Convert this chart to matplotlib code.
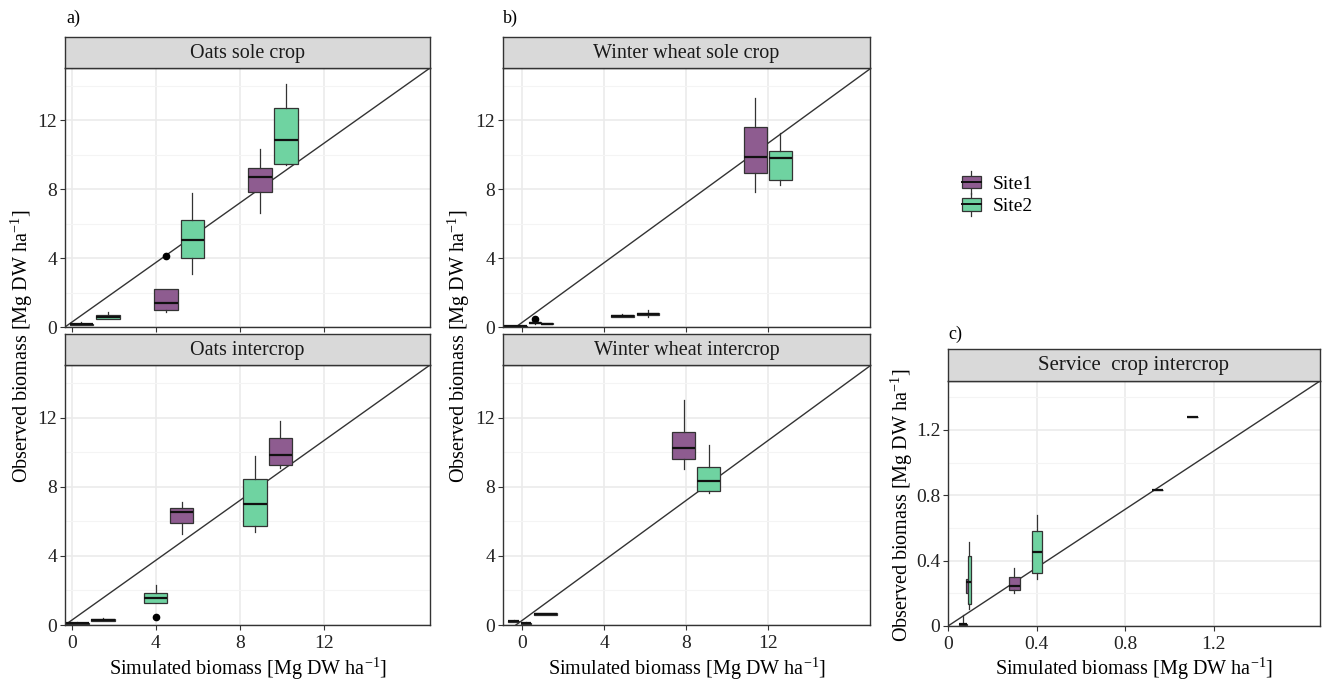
import matplotlib
matplotlib.use("Agg")
import matplotlib.pyplot as plt
from matplotlib.patches import Rectangle
from matplotlib.lines import Line2D
from matplotlib.legend_handler import HandlerBase

# ---------------- DATA ----------------
sites = ["Site1", "Site2"]
site_colors = {"Site1": "#8E5C90", "Site2": "#6FD3A1"}

# stats tuples: (whisker low, q1, median, q3, whisker high)
oats_sole_sim = [0.46, 1.72, 4.49, 5.74, 8.97, 10.21]
oats_sole_site = ["Site1", "Site2", "Site1", "Site2", "Site1", "Site2"]
oats_sole_stats = [(0.10, 0.12, 0.16, 0.18, 0.30), (0.45, 0.49, 0.58, 0.68, 0.87),
                   (0.87, 1.00, 1.39, 2.22, 2.22), (3.09, 4.02, 5.07, 6.19, 7.78),
                   (6.60, 7.87, 8.70, 9.23, 10.35), (9.40, 9.48, 10.87, 12.70, 14.12)]
oats_sole_fliers = [[], [], [4.1], [], [], []]

oats_inter_sim = [0.24, 1.50, 3.99, 5.23, 8.72, 9.94]
oats_inter_site = ["Site2", "Site1", "Site2", "Site1", "Site2", "Site1"]
oats_inter_stats = [(0.05, 0.07, 0.10, 0.12, 0.15), (0.22, 0.25, 0.29, 0.33, 0.38),
                    (1.30, 1.30, 1.59, 1.84, 2.32), (5.28, 5.90, 6.52, 6.77, 7.10),
                    (5.38, 5.71, 7.00, 8.48, 9.77), (9.10, 9.29, 9.83, 10.80, 11.80)]
oats_inter_fliers = [[], [], [0.48], [], [], []]

wheat_sole_sim = [-0.33, 0.60, 1.20, 4.89, 6.14, 11.38, 12.62]
wheat_sole_site = ["Site1", "Site1", "Site2", "Site1", "Site2", "Site1", "Site2"]
wheat_sole_stats = [(0.00, 0.02, 0.04, 0.06, 0.08), (0.20, 0.22, 0.25, 0.28, 0.30),
                    (0.15, 0.17, 0.19, 0.21, 0.23), (0.58, 0.60, 0.66, 0.72, 0.77),
                    (0.58, 0.72, 0.77, 0.82, 0.97), (7.87, 8.96, 9.90, 11.64, 13.29),
                    (8.26, 8.55, 9.83, 10.25, 11.30)]
wheat_sole_fliers = [[], [0.45], [], [], [], [], []]

wheat_inter_sim = [-0.43, 0.19, 1.13, 7.90, 9.12]
wheat_inter_site = ["Site1", "Site2", "Site1", "Site1", "Site2"]
wheat_inter_stats = [(0.18, 0.20, 0.22, 0.25, 0.28), (0.00, 0.05, 0.10, 0.12, 0.20),
                     (0.55, 0.60, 0.64, 0.70, 0.72), (9.04, 9.58, 10.22, 11.19, 13.00),
                     (7.64, 7.74, 8.32, 9.15, 10.41)]
wheat_inter_fliers = [[], [], [], [], []]

service_sim = [0.068, 0.088, 0.097, 0.30, 0.40, 0.945, 1.105]
service_site = ["Site1", "Site1", "Site2", "Site1", "Site2", "Site1", "Site2"]
service_stats = [(0.0, 0.005, 0.01, 0.015, 0.065), (0.20, 0.20, 0.27, 0.285, 0.285),
                 (0.107, 0.137, 0.27, 0.428, 0.515), (0.204, 0.223, 0.245, 0.30, 0.358),
                 (0.29, 0.327, 0.454, 0.583, 0.679), (0.832, 0.832, 0.832, 0.832, 0.832),
                 (1.278, 1.278, 1.278, 1.278, 1.278)]
service_fliers = [[], [], [], [], [], [], []]

ab_ticks = [0, 4, 8, 12]
ab_minor = [2, 6, 10, 14]
c_ticks = [0, 0.4, 0.8, 1.2]
c_tick_labels = ["0", "0.4", "0.8", "1.2"]
c_minor = [0.2, 0.6, 1.0, 1.4]

ref_ab_x = [-0.32, 17.06]
ref_ab_y = [0, 15.05]
ref_c_x = [0, 1.68]
ref_c_y = [0, 1.50]

# ---------------- LAYOUT / STYLE ----------------
W, H = 1322, 682
FONT = "Liberation Serif"
plt.rcParams["font.family"] = [FONT, "DejaVu Serif"]
plt.rcParams["mathtext.fontset"] = "custom"
plt.rcParams["mathtext.rm"] = FONT
plt.rcParams["mathtext.default"] = "regular"

fig = plt.figure(figsize=(W / 100, H / 100), dpi=100)


def px_axes(l, t, r, b):
    return fig.add_axes([l / W, 1 - b / H, (r - l) / W, (b - t) / H])


BORDER = "#333333"
GRID = "#EBEBEB"
GRID_MINOR = "#F4F4F4"
TICK_FS = 14
STRIP_FS = 14.5


def style_axes(ax, xlim, ylim, xticks, yticks, yminor, xlabels=True, xticklabels=None, yticklabels=None):
    ax.set_xlim(*xlim)
    ax.set_ylim(*ylim)
    ax.set_xticks(xticks)
    ax.set_yticks(yticks)
    ax.set_yticks(yminor, minor=True)
    if yticklabels is not None:
        ax.set_yticklabels(yticklabels)
    if xticklabels is not None:
        ax.set_xticklabels(xticklabels)
    if not xlabels:
        ax.tick_params(axis="x", labelbottom=False)
    ax.set_axisbelow(True)
    ax.grid(True, which="major", color=GRID, lw=1.2)
    ax.grid(True, which="minor", axis="y", color=GRID_MINOR, lw=0.8)
    ax.tick_params(axis="both", which="major", length=3.5, width=0.8, color=BORDER,
                   labelsize=TICK_FS, labelcolor="#222222", pad=2)
    ax.tick_params(axis="x", which="major", pad=4)
    ax.tick_params(axis="y", which="minor", length=0)
    for s in ax.spines.values():
        s.set_color(BORDER)
        s.set_linewidth(1.0)


def strip(l, t, r, b, text, fs=STRIP_FS):
    sa = px_axes(l, t, r, b)
    sa.set_facecolor("#D9D9D9")
    sa.set_xticks([])
    sa.set_yticks([])
    for s in sa.spines.values():
        s.set_color(BORDER)
        s.set_linewidth(1.0)
    sa.text(0.5, 0.47, text, ha="center", va="center", fontsize=fs, color="#1A1A1A",
            transform=sa.transAxes)


def draw_boxes(ax, sims, site, stats, fliers, widths):
    for x, s, st, fl, w in zip(sims, site, stats, fliers, widths):
        wl, q1, med, q3, wh = st
        d = dict(whislo=wl, q1=q1, med=med, q3=q3, whishi=wh, fliers=fl)
        ax.bxp([d], positions=[x], widths=[w], patch_artist=True, showcaps=False,
               manage_ticks=False,
               boxprops=dict(facecolor=site_colors[s], edgecolor=BORDER, lw=0.9),
               medianprops=dict(color="#111111", lw=1.6),
               whiskerprops=dict(color=BORDER, lw=0.9),
               flierprops=dict(marker="o", markersize=4.5, markerfacecolor="black",
                               markeredgecolor="black"))


# panel rectangles (pixels): left, top, right, bottom
A_L, A_R = 65, 430
B_L, B_R = 503, 870
TOP_T, TOP_B = 68, 327
BOT_T, BOT_B = 365, 625
C_L, C_R, C_T, C_B = 948, 1320, 381, 626

ab_ylim = (0, 15.05)
a_xlim = (-0.32, 17.06)
b_xlim = (-0.95, 17.0)

panels = [
    (A_L, TOP_T, A_R, TOP_B, a_xlim, False, "Oats sole crop",
     oats_sole_sim, oats_sole_site, oats_sole_stats, oats_sole_fliers, [1.12] * 6),
    (A_L, BOT_T, A_R, BOT_B, a_xlim, True, "Oats intercrop",
     oats_inter_sim, oats_inter_site, oats_inter_stats, oats_inter_fliers, [1.12] * 6),
    (B_L, TOP_T, B_R, TOP_B, b_xlim, False, "Winter wheat sole crop",
     wheat_sole_sim, wheat_sole_site, wheat_sole_stats, wheat_sole_fliers,
     [1.12, 0.57, 0.57, 1.12, 1.12, 1.12, 1.12]),
    (B_L, BOT_T, B_R, BOT_B, b_xlim, True, "Winter wheat intercrop",
     wheat_inter_sim, wheat_inter_site, wheat_inter_stats, wheat_inter_fliers,
     [0.55, 0.5, 1.15, 1.12, 1.12]),
]

for l, t, r, b, xlim, xl, title, sims, site, stats, fl, widths in panels:
    ax = px_axes(l, t, r, b)
    style_axes(ax, xlim, ab_ylim, ab_ticks, ab_ticks, ab_minor, xlabels=xl)
    ax.plot(ref_ab_x, ref_ab_y, color="#333333", lw=1.0, zorder=1.5)
    draw_boxes(ax, sims, site, stats, fl, widths)
    strip(l, t - 31, r, t, title)

# panel c
axc = px_axes(C_L, C_T, C_R, C_B)
style_axes(axc, (0, 1.68), (0, 1.50), c_ticks, c_ticks, c_minor, xlabels=True,
           xticklabels=c_tick_labels, yticklabels=c_tick_labels)
axc.plot(ref_c_x, ref_c_y, color="#333333", lw=1.0, zorder=1.5)
draw_boxes(axc, service_sim, service_site, service_stats, service_fliers,
           [0.035, 0.014, 0.014, 0.047, 0.045, 0.05, 0.05])
strip(C_L, C_T - 32, C_R, C_T, "Service  crop intercrop", fs=15)

# axis titles
xlab = r"Simulated biomass [Mg DW ha$^{-1}$]"
ylab = r"Observed biomass [Mg DW ha$^{-1}$]"
LAB_FS = 14.5
fig.text((A_L + A_R) / 2 / W, 1 - 669 / H, xlab, ha="center", va="center", fontsize=LAB_FS)
fig.text((B_L + B_R) / 2 / W, 1 - 669 / H, xlab, ha="center", va="center", fontsize=LAB_FS)
fig.text((C_L + C_R) / 2 / W, 1 - 669 / H, xlab, ha="center", va="center", fontsize=LAB_FS)
fig.text(22 / W, 1 - 346 / H, ylab, ha="center", va="center", rotation=90, fontsize=LAB_FS)
fig.text(459 / W, 1 - 346 / H, ylab, ha="center", va="center", rotation=90, fontsize=LAB_FS)
fig.text(902 / W, 1 - 505 / H, ylab, ha="center", va="center", rotation=90, fontsize=LAB_FS)

# panel letters
fig.text(66 / W, 1 - 18 / H, "a)", ha="left", va="center", fontsize=13)
fig.text(503 / W, 1 - 18 / H, "b)", ha="left", va="center", fontsize=13)
fig.text(948 / W, 1 - 334 / H, "c)", ha="left", va="center", fontsize=13)


# legend with boxplot keys
class BoxKey(HandlerBase):
    def __init__(self, color):
        super().__init__()
        self.color = color

    def create_artists(self, legend, orig_handle, xdescent, ydescent, width, height, fontsize, trans):
        bw = width * 0.75
        x0 = (width - bw) / 2 - xdescent
        bh = height * 0.7
        y0 = (height - bh) / 2 - ydescent
        rect = Rectangle((x0, y0), bw, bh, facecolor=self.color, edgecolor=BORDER, lw=0.9, transform=trans)
        cx = x0 + bw / 2
        w1 = Line2D([cx, cx], [y0 + bh, y0 + bh + height * 0.3], color=BORDER, lw=0.9, transform=trans)
        w2 = Line2D([cx, cx], [y0 - height * 0.3, y0], color=BORDER, lw=0.9, transform=trans)
        med = Line2D([x0, x0 + bw], [y0 + bh / 2, y0 + bh / 2], color="#111111", lw=1.4, transform=trans)
        return [w1, w2, rect, med]


handles = [Rectangle((0, 0), 1, 1, label=s) for s in sites]
leg = fig.legend(handles, sites, loc="upper left", bbox_to_anchor=(941 / W, 1 - 156 / H),
                 frameon=False, fontsize=14, handlelength=1.3, handleheight=1.0,
                 labelspacing=0.15, handletextpad=0.46,
                 handler_map={handles[0]: BoxKey(site_colors["Site1"]),
                              handles[1]: BoxKey(site_colors["Site2"])})

fig.savefig("out.png", dpi=100)
